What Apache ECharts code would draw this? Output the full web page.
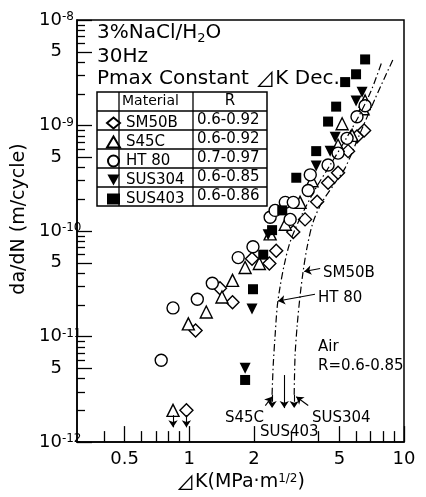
<!DOCTYPE html>
<html>
<head>
<meta charset="utf-8">
<script src="https://cdn.jsdelivr.net/npm/echarts@6/dist/echarts.min.js"></script>
<style>
  html, body { margin: 0; padding: 0; background: #fff; }
  #chart { width: 426px; height: 497px; }
</style>
</head>
<body>
<div id="chart"></div>
<script>
// tick values
const xMajorTicks = [0.5, 1, 2, 5, 10];
const xMinorTicks = [0.4, 0.6, 0.7, 0.8, 0.9, 3, 4, 6, 7, 8, 9];
const yMajorTicks = [1e-12, 5e-12, 1e-11, 5e-11, 1e-10, 5e-10, 1e-9, 5e-9, 1e-8];
const yDecadeLabels = [1e-12, 1e-11, 1e-10, 1e-9, 1e-8];
const yFiveLabels = [5e-12, 5e-11, 5e-10, 5e-9];
const yMinorTicks = [
  2e-12, 3e-12, 4e-12, 6e-12, 7e-12, 8e-12, 9e-12,
  2e-11, 3e-11, 4e-11, 6e-11, 7e-11, 8e-11, 9e-11,
  2e-10, 3e-10, 4e-10, 6e-10, 7e-10, 8e-10, 9e-10,
  2e-9, 3e-9, 4e-9, 6e-9, 7e-9, 8e-9, 9e-9
];

// 3%NaCl data [dK, da/dN]
const sm50b = [[1.07, 1.14e-11], [1.39, 2.87e-11], [1.59, 2.12e-11], [1.96, 5.47e-11], [2.36, 4.92e-11],
  [2.54, 6.5e-11], [3.05, 9.8e-11], [3.46, 1.29e-10], [3.94, 1.9e-10], [4.43, 2.87e-10],
  [4.93, 3.56e-10], [5.49, 5.72e-10], [6.04, 7.89e-10], [6.52, 8.98e-10]];
const s45c = [[0.99, 1.32e-11], [1.20, 1.71e-11], [1.42, 2.37e-11], [1.59, 3.41e-11], [1.82, 4.51e-11],
  [2.12, 4.92e-11], [2.38, 9.4e-11], [2.80, 1.16e-10], [3.28, 1.87e-10], [3.73, 3.0e-10],
  [4.93, 6.5e-10], [5.15, 1.04e-9], [5.73, 8.07e-10], [6.45, 1.44e-9], [6.59, 1.71e-9]];
const ht80 = [[0.74, 5.97e-12], [0.84, 1.87e-11], [1.09, 2.26e-11], [1.28, 3.2e-11], [1.69, 5.6e-11],
  [1.98, 7.1e-11], [2.38, 1.35e-10], [2.51, 1.57e-10], [2.80, 1.87e-10], [2.95, 1.29e-10],
  [3.05, 1.87e-10], [3.58, 2.42e-10], [3.66, 3.41e-10], [4.43, 4.23e-10], [4.93, 5.48e-10],
  [5.43, 7.56e-10], [6.04, 1.21e-9], [6.59, 1.54e-9]];
const sus304 = [[1.82, 5.0e-12], [1.96, 1.83e-11], [2.33, 9.2e-11], [3.90, 4.14e-10], [4.53, 5.72e-10],
  [4.78, 7.73e-10], [5.98, 1.71e-9], [6.38, 2.07e-9]];
const sus403 = [[1.82, 3.88e-12], [1.98, 2.81e-11], [2.21, 5.97e-11], [2.43, 1.02e-10], [2.71, 1.57e-10],
  [3.15, 3.2e-10], [3.90, 5.72e-10], [4.43, 1.09e-9], [4.83, 1.51e-9], [5.32, 2.58e-9],
  [5.98, 3.06e-9], [6.59, 4.23e-9]];
// no growth points (arrow down)
const s45cNoGrowth = [0.84, 2.0e-12];
const sm50bNoGrowth = [0.97, 2.0e-12];

// air curves
const airHT80 = [[2.43, 2.81e-12], [2.46, 5.36e-12], [2.51, 1.02e-11], [2.57, 1.95e-11], [2.65, 3.0e-11],
  [2.77, 4.81e-11], [2.92, 7.4e-11], [3.11, 1.04e-10], [3.39, 1.51e-10], [3.85, 2.47e-10],
  [4.53, 4.23e-10], [5.32, 7.24e-10], [6.24, 1.29e-9], [7.02, 2.12e-9], [7.90, 4.05e-9]];
const airSM50B = [[3.08, 2.81e-12], [3.11, 6.64e-12], [3.18, 1.27e-11], [3.28, 2.42e-11], [3.39, 4.14e-11],
  [3.54, 7.08e-11], [3.77, 1.21e-10], [4.15, 1.87e-10], [4.78, 2.87e-10], [5.32, 3.97e-10],
  [6.24, 8.41e-10], [7.33, 1.79e-9], [8.89, 4.23e-9]];

const materials = ['SM50B', 'S45C', 'HT 80', 'SUS304', 'SUS403'];
const rRanges = ['0.6-0.92', '0.6-0.92', '0.7-0.97', '0.6-0.85', '0.6-0.86'];

const FONT = 'DejaVu Sans';
const dashDot = [7, 3, 1.5, 3];
const downTriangle = 'path://M0,0 L10,0 L5,9 Z';

const myChart = echarts.init(document.getElementById('chart'), null, { renderer: 'canvas' });

const arrowLine = (from, to, type) => [
  { coord: from, lineStyle: { color: '#000', width: 1.1, type: type || 'solid' } },
  { coord: to }
];

const markStyle = {
  silent: true,
  symbol: ['none', 'arrow'],
  symbolSize: 7,
  label: { show: false },
  animation: false
};

const openSymbol = { color: '#fff', borderColor: '#000', borderWidth: 1.4, opacity: 1 };
const fillSymbol = { color: '#000', borderColor: '#000', borderWidth: 0, opacity: 1 };

const option = {
  animation: false,
  backgroundColor: '#fff',
  textStyle: { fontFamily: FONT, color: '#000' },
  grid: {
    left: 77, right: 22, top: 20, bottom: 49,
    show: true, borderColor: '#000', borderWidth: 1.5, backgroundColor: 'transparent'
  },
  legend: {
    data: [
      { name: 'SM50B' },
      { name: 'S45C' },
      { name: 'HT 80' },
      { name: 'SUS304', icon: downTriangle },
      { name: 'SUS403' }
    ],
    orient: 'vertical',
    left: 101,
    top: 110.5,
    itemWidth: 13,
    itemHeight: 11,
    itemGap: 4,
    selectedMode: false,
    textStyle: { fontSize: 15, color: '#000', fontFamily: FONT, padding: [0, 0, 0, 1] }
  },
  xAxis: [{
    type: 'log',
    min: 0.3,
    max: 10,
    axisLine: { lineStyle: { color: '#000', width: 1.5 } },
    axisTick: { inside: true, length: 16, customValues: xMajorTicks, lineStyle: { color: '#000', width: 1.3 } },
    axisLabel: {
      customValues: xMajorTicks, fontSize: 18, margin: 8, color: '#000',
      formatter: v => String(v)
    },
    splitLine: { show: false },
    name: '{d|⊿}K(MPa·m{s|1/2})',
    nameLocation: 'middle',
    nameGap: 27,
    nameTextStyle: {
      fontSize: 19, color: '#000',
      rich: {
        d: { fontSize: 19, fontFamily: 'Noto Sans CJK JP' },
        s: { fontSize: 12, verticalAlign: 'top', lineHeight: 12 }
      }
    }
  }, {
    type: 'log',
    min: 0.3,
    max: 10,
    position: 'bottom',
    axisLine: { show: false },
    axisTick: { inside: true, length: 11, customValues: xMinorTicks, lineStyle: { color: '#000', width: 1.3 } },
    axisLabel: { show: false },
    splitLine: { show: false }
  }],
  yAxis: [{
    type: 'log',
    min: 1e-12,
    max: 1e-8,
    position: 'left',
    axisLine: { lineStyle: { color: '#000', width: 1.5 } },
    axisTick: { inside: true, length: 15, customValues: yMajorTicks, lineStyle: { color: '#000', width: 1.3 } },
    axisLabel: {
      customValues: yDecadeLabels,
      align: 'left',
      margin: 38,
      formatter: v => '{b|10}{s|-' + Math.round(-Math.log10(v)) + '}',
      rich: {
        b: { fontSize: 18, lineHeight: 18, color: '#000' },
        s: { fontSize: 12, lineHeight: 12, verticalAlign: 'top', color: '#000' }
      }
    },
    splitLine: { show: false },
    name: 'da/dN (m/cycle)',
    nameLocation: 'middle',
    nameGap: 34,
    nameRotate: 90,
    nameTextStyle: { fontSize: 19, color: '#000', padding: [0, 0, 0, 24] }
  }, {
    type: 'log',
    min: 1e-12,
    max: 1e-8,
    position: 'left',
    axisLine: { show: false },
    axisTick: { inside: true, length: 8, customValues: yMinorTicks, lineStyle: { color: '#000', width: 1.3 } },
    axisLabel: {
      customValues: yFiveLabels, align: 'right', margin: 15, fontSize: 18, color: '#000',
      formatter: () => '5'
    },
    splitLine: { show: false }
  }],
  series: [
    {
      name: 'SM50B', type: 'scatter', symbol: 'diamond', symbolSize: 13,
      itemStyle: openSymbol, data: sm50b.concat([sm50bNoGrowth]),
      markLine: Object.assign({}, markStyle, {
        data: [arrowLine([0.97, 1.8e-12], [0.97, 1.38e-12])]
      })
    },
    {
      name: 'S45C', type: 'scatter', symbol: 'triangle', symbolSize: 12,
      itemStyle: openSymbol, data: s45c.concat([s45cNoGrowth]),
      markLine: Object.assign({}, markStyle, {
        data: [arrowLine([0.84, 1.8e-12], [0.84, 1.38e-12])]
      })
    },
    {
      name: 'HT 80', type: 'scatter', symbol: 'circle', symbolSize: 12,
      itemStyle: openSymbol, data: ht80
    },
    {
      name: 'SUS304', type: 'scatter', symbol: 'triangle', symbolRotate: 180, symbolSize: 11,
      itemStyle: fillSymbol, data: sus304
    },
    {
      name: 'SUS403', type: 'scatter', symbol: 'rect', symbolSize: 10,
      itemStyle: fillSymbol, data: sus403
    },
    {
      name: 'Air HT 80', type: 'line', data: airHT80, showSymbol: false, smooth: 0.3,
      lineStyle: { color: '#000', width: 1.2, type: dashDot },
      markLine: Object.assign({}, markStyle, {
        data: [
          arrowLine([2.43, 2.81e-12], [2.43, 2.1e-12], dashDot),
          arrowLine([3.85, 2.52e-11], [2.59, 2.17e-11]),
          arrowLine([2.26, 2.22e-12], [2.43, 2.69e-12]),
          arrowLine([2.77, 4.32e-12], [2.77, 2.1e-12])
        ]
      })
    },
    {
      name: 'Air SM50B', type: 'line', data: airSM50B, showSymbol: false, smooth: 0.3,
      lineStyle: { color: '#000', width: 1.2, type: dashDot },
      markLine: Object.assign({}, markStyle, {
        data: [
          arrowLine([3.08, 2.81e-12], [3.08, 2.1e-12], dashDot),
          arrowLine([4.07, 4.41e-11], [3.43, 4.14e-11]),
          arrowLine([3.58, 2.22e-12], [3.15, 2.69e-12])
        ]
      })
    }
  ],
  graphic: [
    { type: 'text', x: 97, y: 33, style: {
      text: '{n|3%NaCl/H}{sub|2}{n|O}', verticalAlign: 'middle', fill: '#000',
      rich: {
        n: { fontSize: 20, lineHeight: 24, fontFamily: FONT },
        sub: { fontSize: 13, lineHeight: 13, verticalAlign: 'bottom', fontFamily: FONT }
      }
    } },
    { type: 'text', x: 97, y: 57, style: { text: '30Hz', fontSize: 20, fontFamily: FONT, fill: '#000', verticalAlign: 'middle' } },
    { type: 'text', x: 97, y: 79, style: {
      text: 'Pmax Constant {d|⊿}K Dec.', fontSize: 20, fontFamily: FONT, fill: '#000', verticalAlign: 'middle',
      rich: { d: { fontSize: 20, fontFamily: 'Noto Sans CJK JP' } }
    } },
    // table frame
    { type: 'rect', shape: { x: 97, y: 92, width: 170, height: 114 }, style: { fill: 'none', stroke: '#000', lineWidth: 1.5 } },
    { type: 'line', shape: { x1: 119, y1: 92, x2: 119, y2: 206 }, style: { stroke: '#000', lineWidth: 1.3 } },
    { type: 'line', shape: { x1: 193, y1: 92, x2: 193, y2: 206 }, style: { stroke: '#000', lineWidth: 1.3 } },
    ...[111, 130, 149, 168, 187].map(y => ({
      type: 'line', shape: { x1: 97, y1: y, x2: 267, y2: y }, style: { stroke: '#000', lineWidth: 1.3 }
    })),
    { type: 'text', x: 122, y: 101.5, style: { text: 'Material', fontSize: 14, fontFamily: FONT, fill: '#000', verticalAlign: 'middle' } },
    { type: 'text', x: 230, y: 101.5, style: { text: 'R', fontSize: 15, fontFamily: FONT, fill: '#000', verticalAlign: 'middle', align: 'center' } },
    ...rRanges.map((r, i) => ({
      type: 'text', x: 197, y: 120.5 + i * 19,
      style: { text: r, fontSize: 15, fontFamily: FONT, fill: '#000', verticalAlign: 'middle' }
    })),
    // curve annotations
    { type: 'text', x: 323, y: 273, style: { text: 'SM50B', fontSize: 15, fontFamily: FONT, fill: '#000', verticalAlign: 'middle' } },
    { type: 'text', x: 318, y: 298, style: { text: 'HT 80', fontSize: 15, fontFamily: FONT, fill: '#000', verticalAlign: 'middle' } },
    { type: 'text', x: 318, y: 347, style: { text: 'Air', fontSize: 15, fontFamily: FONT, fill: '#000', verticalAlign: 'middle' } },
    { type: 'text', x: 318, y: 366, style: { text: 'R=0.6-0.85', fontSize: 15, fontFamily: FONT, fill: '#000', verticalAlign: 'middle' } },
    { type: 'text', x: 225, y: 418, style: { text: 'S45C', fontSize: 15, fontFamily: FONT, fill: '#000', verticalAlign: 'middle' } },
    { type: 'text', x: 312, y: 418, style: { text: 'SUS304', fontSize: 15, fontFamily: FONT, fill: '#000', verticalAlign: 'middle' } },
    { type: 'text', x: 260, y: 432, style: { text: 'SUS403', fontSize: 15, fontFamily: FONT, fill: '#000', verticalAlign: 'middle' } }
  ]
};

myChart.setOption(option);
</script>
</body>
</html>
